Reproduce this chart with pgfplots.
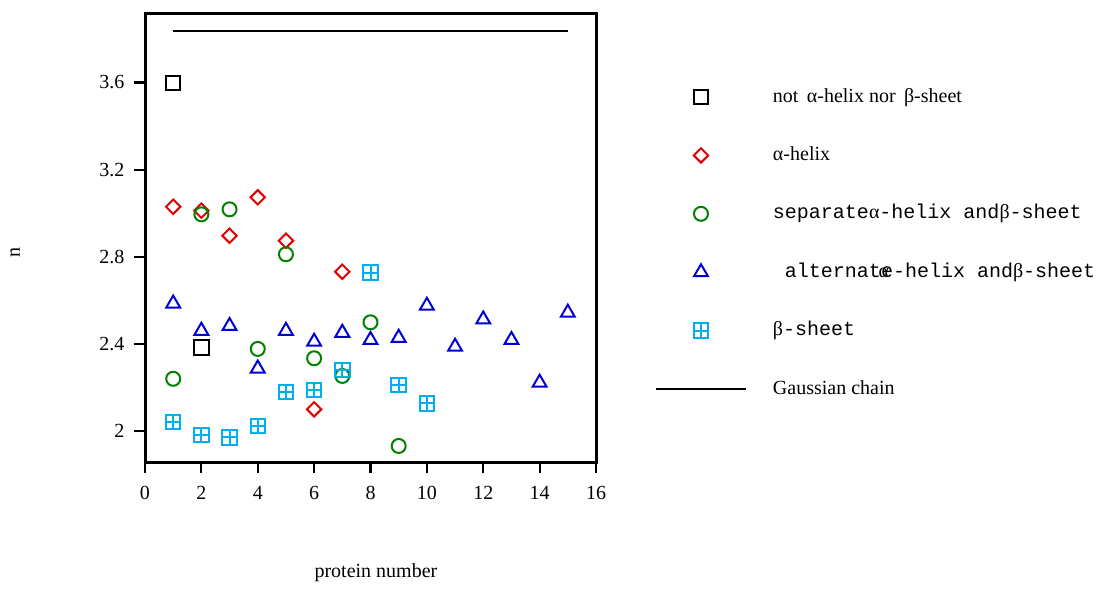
\documentclass[border=0pt]{standalone}
\usepackage{fontspec}
\setmainfont{Liberation Serif}
\setmonofont{Liberation Mono}
\usepackage{pgfplots}
\pgfplotsset{compat=1.18}
\definecolor{cblack}{RGB}{0,0,0}
\definecolor{cred}{RGB}{225,0,0}
\definecolor{cgreen}{RGB}{0,130,0}
\definecolor{cblue}{RGB}{0,0,210}
\definecolor{ccyan}{RGB}{0,175,240}
\pgfplotsset{
  markleg/.style={legend image code/.code={\path (0pt,-3pt) (45pt,3pt); \draw[##1] plot coordinates {(22.5pt,0pt)};}},
  boxleg/.style={legend image code/.code={\path (0pt,-3pt) (45pt,3pt); \draw[##1] plot coordinates {(22.5pt,0pt)}; \draw[ccyan, line width=1pt] (22.5pt,-3.6pt)--(22.5pt,3.6pt) (18.9pt,0pt)--(26.1pt,0pt);}},
  lineleg/.style={legend image code/.code={\draw[##1] (0pt,0pt)--(45pt,0pt);}},
}
\begin{document}
\begin{tikzpicture}
\path[use as bounding box] (0pt,0pt) rectangle (548pt,304pt);
\begin{axis}[
  at={(72.5pt,72.85pt)}, anchor=south west,
  scale only axis, width=225.5pt, height=224.5pt,
  xmin=0, xmax=16, ymin=1.858, ymax=3.917,
  xtick={0,2,...,16}, ytick={2,2.4,2.8,3.2,3.6},
  yticklabels={2,2.4,2.8,3.2,3.6},
  axis line style={line width=1.5pt},
  tick style={line width=1.1pt, black},
  tick align=outside, major tick length=5.5pt,
  xtick pos=bottom, ytick pos=left,
  /pgf/number format/assume math mode=true,
  ticklabel style={font=\fontsize{10}{12}\selectfont},
  yticklabel style={xshift=-1.3pt},
  xticklabel style={yshift=-3pt},
  xlabel={protein number}, ylabel={n},
  label style={font=\fontsize{10}{12}\selectfont},
  xlabel style={at={(axis description cs:0.512,-0.2466)}, anchor=center},
  ylabel style={at={(axis description cs:-0.288,0.468)}, anchor=center},
  legend cell align=left,
  legend style={draw=none, fill=none, inner sep=0pt, outer sep=0pt,
    at={(1.1308,0.8425)}, anchor=north west,
    row sep=16.2pt, column sep=11pt,
    nodes={font=\fontsize{10}{12}\selectfont, inner sep=2pt, text height=7pt, text depth=2pt}},
]
\addplot[only marks, mark=square, mark size=3.6pt, cblack, line width=1pt, markleg]
  coordinates {(1,3.596) (2,2.385)};
\addlegendentry{not \,α-helix nor \,β-sheet}
\addplot[only marks, mark=square, mark size=2.55pt, mark options={rotate=45}, cred, line width=1pt, markleg]
  coordinates {(1,3.030) (2,3.012) (3,2.897) (4,3.073) (5,2.874) (6,2.101) (7,2.732)};
\addlegendentry{α-helix}
\addplot[only marks, mark=o, mark size=3.5pt, cgreen, line width=1pt, markleg]
  coordinates {(1,2.241) (2,2.995) (3,3.018) (4,2.378) (5,2.812) (6,2.335) (7,2.254) (8,2.500) (9,1.933)};
\addlegendentry{\texttt{separate}α\texttt{-helix and}β\texttt{-sheet}}
\addplot[only marks, mark=triangle, mark size=4pt, cblue, line width=1pt, markleg]
  coordinates {(1,2.586) (2,2.461) (3,2.483) (4,2.288) (5,2.461) (6,2.411) (7,2.452) (8,2.419) (9,2.429) (10,2.576) (11,2.388) (12,2.513) (13,2.419) (14,2.223) (15,2.544)};
\addlegendentry{\texttt{\ alternat\kern-0.12em\rlap{\rmfamily α}\kern0.12em e-helix and}β\texttt{-sheet}}
\addplot[only marks, mark=square, mark size=3.6pt, ccyan, line width=1pt, boxleg]
  coordinates {(1,2.044) (2,1.983) (3,1.972) (4,2.024) (5,2.179) (6,2.189) (7,2.281) (8,2.728) (9,2.212) (10,2.128)};
\addlegendentry{β\texttt{-sheet}}
\addplot[black, line width=1pt, lineleg]
  coordinates {(1,3.836) (15,3.836)};
\addlegendentry{Gaussian chain}
\addplot[only marks, mark=+, mark size=3.6pt, ccyan, line width=1pt, forget plot]
  coordinates {(1,2.044) (2,1.983) (3,1.972) (4,2.024) (5,2.179) (6,2.189) (7,2.281) (8,2.728) (9,2.212) (10,2.128)};
\end{axis}
\end{tikzpicture}
\end{document}
